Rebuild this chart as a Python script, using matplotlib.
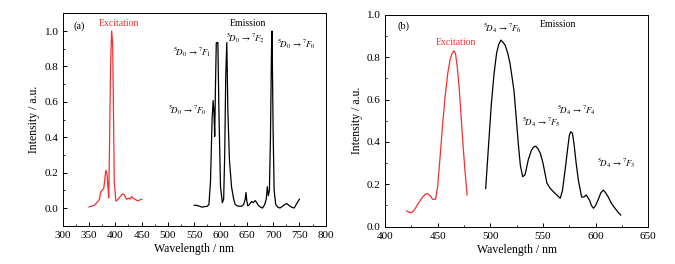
import numpy as np
import matplotlib
matplotlib.use("Agg")
import matplotlib.pyplot as plt
from matplotlib.ticker import MultipleLocator

plt.rcParams['font.family'] = ['Liberation Serif', 'DejaVu Serif']
plt.rcParams['mathtext.fontset'] = 'stix'

# (a) Eu3+ excitation / emission
exc_a_x = [350, 355, 360, 365, 370, 372, 375, 378, 380, 382, 384, 386, 387.5, 389, 391, 393, 395, 396.5, 398, 401, 404, 408, 411, 414, 417, 421, 425, 428, 431, 434, 437, 440, 443, 446, 450]
exc_a_y = [0.006, 0.01, 0.015, 0.03, 0.05, 0.09, 0.10, 0.11, 0.16, 0.213, 0.20, 0.12, 0.057, 0.35, 0.80, 1.0, 0.93, 0.55, 0.15, 0.04, 0.045, 0.06, 0.07, 0.08, 0.075, 0.05, 0.055, 0.05, 0.065, 0.055, 0.05, 0.045, 0.04, 0.045, 0.05]

em_a_x = [550, 555, 560, 565, 570, 575, 578, 581, 584, 586, 587.5, 589, 590.5, 592, 593.5, 595, 597, 600, 603.5, 606, 608, 610, 612, 614, 617, 621, 625, 628, 632, 636, 640, 644, 647, 648.5, 650, 652, 655, 659, 662, 666, 669, 672, 676, 680, 684, 687, 689, 691, 693, 695, 697, 698, 700, 702, 705, 709, 713, 718, 722, 726, 730, 735, 740, 745, 750]
em_a_y = [0.015, 0.015, 0.01, 0.005, 0.008, 0.01, 0.02, 0.15, 0.50, 0.607, 0.55, 0.405, 0.70, 0.934, 0.93, 0.935, 0.55, 0.12, 0.03, 0.05, 0.30, 0.75, 0.935, 0.55, 0.27, 0.12, 0.05, 0.02, 0.012, 0.01, 0.01, 0.02, 0.05, 0.088, 0.04, 0.012, 0.02, 0.037, 0.03, 0.042, 0.03, 0.015, 0.005, 0.0, 0.02, 0.05, 0.12, 0.07, 0.10, 0.40, 0.90, 1.0, 0.45, 0.10, 0.02, 0.005, 0.0, 0.01, 0.02, 0.025, 0.015, 0.005, 0.0, 0.025, 0.05]

# (b) Tb3+ excitation / emission
exc_b_x = [420.6, 423, 425.3, 428, 431.6, 435, 438, 440.2, 443, 445.3, 448, 450, 452, 454.5, 457, 459.5, 461.7, 463.5, 465.5, 467, 468.7, 470.5, 472.3, 474, 476, 478]
exc_b_y = [0.074, 0.068, 0.066, 0.08, 0.11, 0.135, 0.152, 0.157, 0.145, 0.129, 0.13, 0.19, 0.31, 0.47, 0.61, 0.72, 0.786, 0.815, 0.83, 0.815, 0.75, 0.65, 0.52, 0.39, 0.26, 0.15]

em_b_x = [495.6, 498, 501, 503.5, 506, 508, 510, 512, 514, 516.5, 518.7, 520.5, 522.5, 524.5, 526.6, 528.5, 530.7, 533, 536, 539, 541, 543, 545, 547.5, 550, 553.8, 557, 559.9, 563, 566.4, 568.5, 571, 573.5, 575, 576.3, 578, 579.5, 581.5, 583.6, 586.7, 589, 591, 594.3, 596, 598, 600, 602.6, 605, 607.3, 609.5, 612, 615, 618.4, 621, 623.8]
em_b_y = [0.18, 0.36, 0.58, 0.72, 0.82, 0.86, 0.88, 0.87, 0.857, 0.82, 0.77, 0.71, 0.64, 0.52, 0.39, 0.29, 0.236, 0.245, 0.315, 0.36, 0.375, 0.38, 0.37, 0.346, 0.30, 0.205, 0.18, 0.165, 0.15, 0.134, 0.17, 0.267, 0.37, 0.43, 0.448, 0.44, 0.39, 0.30, 0.22, 0.14, 0.14, 0.15, 0.125, 0.10, 0.087, 0.10, 0.13, 0.16, 0.173, 0.16, 0.14, 0.11, 0.087, 0.07, 0.055]

red = '#f03030'

fig = plt.figure(figsize=(6.75, 2.64), dpi=100)
ax1 = fig.add_axes([0.0929, 0.145, 0.3896, 0.8045])
ax2 = fig.add_axes([0.5704, 0.1413, 0.3900, 0.8030])

ax1.plot(exc_a_x, exc_a_y, color=red, lw=0.9)
ax1.plot(em_a_x, em_a_y, color='black', lw=0.9)
ax2.plot(exc_b_x, exc_b_y, color=red, lw=0.9)
ax2.plot(em_b_x, em_b_y, color='black', lw=0.9)

ax1.set_xlim(300, 800)
ax1.set_ylim(-0.1, 1.1)
ax2.set_xlim(400, 650)
ax2.set_ylim(0, 1.0)

for ax in (ax1, ax2):
    ax.xaxis.set_major_locator(MultipleLocator(50))
    ax.xaxis.set_minor_locator(MultipleLocator(25))
    ax.yaxis.set_major_locator(MultipleLocator(0.2))
    ax.yaxis.set_minor_locator(MultipleLocator(0.1))
    ax.yaxis.set_major_formatter(matplotlib.ticker.FormatStrFormatter('%.1f'))
    ax.tick_params(which='major', direction='in', length=3, width=0.7, labelsize=8)
    ax.tick_params(axis='x', which='major', pad=4)
    ax.tick_params(axis='y', which='major', pad=3)
    ax.tick_params(which='minor', direction='in', length=1.5, width=0.6)
    for s in ax.spines.values():
        s.set_linewidth(0.7)
    ax.set_xlabel('Wavelength / nm', fontsize=8.5, labelpad=2)
    ax.set_ylabel('Intensity / a.u.', fontsize=8.5, labelpad=3)

fs = 6.5
ax1.text(320, 1.03, '(a)', fontsize=7.5, va='center')
ax1.text(406, 1.04, 'Excitation', fontsize=7, color=red, ha='center', va='center')
ax1.text(653, 1.04, 'Emission', fontsize=7, ha='center', va='center')
ax1.text(510, 0.877, r'$^{5}\!D_{0}\,\rightarrow\,{}^{7}\!F_{1}$', fontsize=fs, va='center')
ax1.text(610, 0.957, r'$^{5}\!D_{0}\,\rightarrow\,{}^{7}\!F_{2}$', fontsize=fs, va='center')
ax1.text(707, 0.925, r'$^{5}\!D_{0}\,\rightarrow\,{}^{7}\!F_{0}$', fontsize=fs, va='center')
ax1.text(500, 0.55, r'$^{5}\!D_{0}\,\rightarrow\,{}^{7}\!F_{0}$', fontsize=fs, va='center')

ax2.text(412, 0.944, '(b)', fontsize=7.5, va='center')
ax2.text(467, 0.868, 'Excitation', fontsize=7, color=red, ha='center', va='center')
ax2.text(564, 0.955, 'Emission', fontsize=7, ha='center', va='center')
ax2.text(493, 0.936, r'$^{5}\!D_{4}\,\rightarrow\,{}^{7}\!F_{6}$', fontsize=fs, va='center')
ax2.text(530, 0.49, r'$^{5}\!D_{4}\,\rightarrow\,{}^{7}\!F_{5}$', fontsize=fs, va='center')
ax2.text(563, 0.55, r'$^{5}\!D_{4}\,\rightarrow\,{}^{7}\!F_{4}$', fontsize=fs, va='center')
ax2.text(601, 0.30, r'$^{5}\!D_{4}\,\rightarrow\,{}^{7}\!F_{3}$', fontsize=fs, va='center')

fig.savefig('out.png', dpi=100)
plt.close()
